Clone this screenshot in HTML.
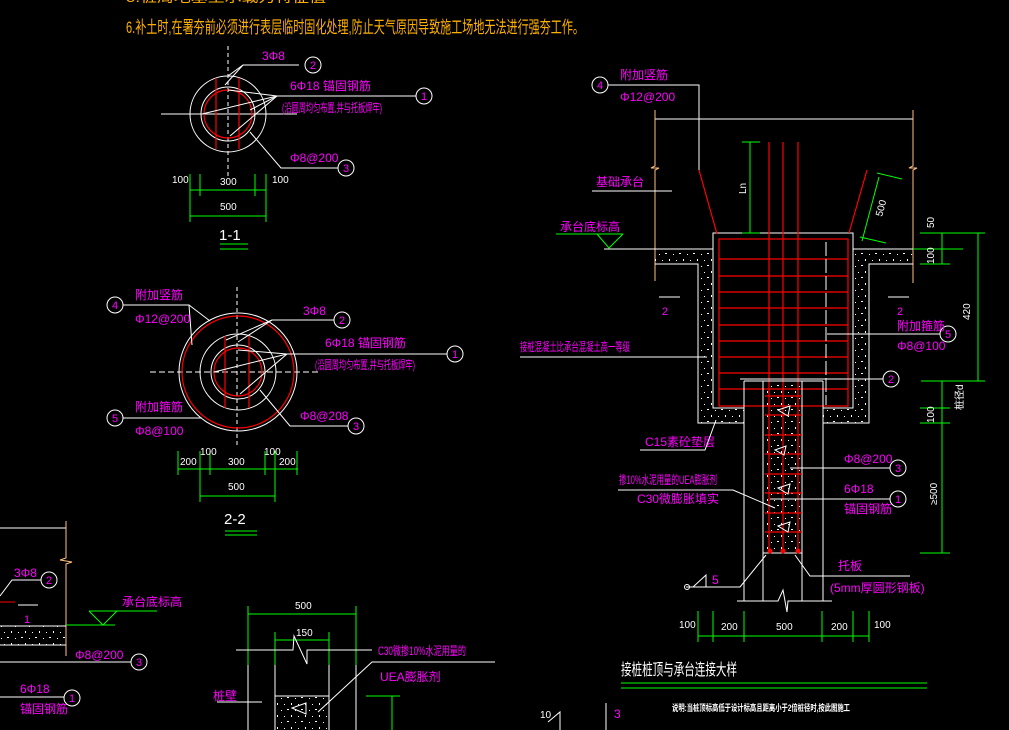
<!DOCTYPE html>
<html><head><meta charset="utf-8"><style>
html,body{margin:0;padding:0;background:#000;}
svg{display:block;}
text{font-family:"Liberation Sans","Noto Sans CJK SC",sans-serif;}
.m{fill:#ff00ff;font-size:12px;}
.w{fill:#fff;font-size:10px;}
.ln{stroke:#fff;stroke-width:1;fill:none;}
.g{stroke:#00ff00;stroke-width:1;fill:none;}
.r{stroke:#ff0000;stroke-width:1.2;fill:none;}
.o{stroke:#ffc080;stroke-width:1;fill:none;}
.n{fill:#ff00ff;font-size:11px;text-anchor:middle;}
</style></head><body>
<svg width="1009" height="730" viewBox="0 0 1009 730" xmlns="http://www.w3.org/2000/svg">
<defs>
<pattern id="h" width="14" height="12" patternUnits="userSpaceOnUse">
<rect x="1" y="2" width="1" height="1" fill="#fff"/><rect x="7" y="1" width="2" height="1" fill="#fff"/><rect x="11" y="7" width="1" height="2" fill="#fff"/><rect x="4" y="8" width="1" height="1" fill="#fff"/>
</pattern>
</defs>
<rect width="1009" height="730" fill="#000"/>
<text x="126" y="2" fill="#ffb000" font-size="14" textLength="200" lengthAdjust="spacingAndGlyphs">5.桩周地基土承载力特征值</text>
<text x="126" y="33" fill="#ffb000" font-size="17" textLength="458" lengthAdjust="spacingAndGlyphs">6.补土时,在署夯前必须进行表层临时固化处理,防止天气原因导致施工场地无法进行强夯工作。</text>

<!-- Section 1-1 -->
<line x1="228" y1="46" x2="228" y2="176" stroke="#fff" stroke-dasharray="4,3"/>
<line class="ln" x1="161" y1="114" x2="297" y2="114"/>
<circle class="ln" cx="228" cy="114" r="38"/>
<circle class="ln" cx="228" cy="114" r="27"/>
<circle class="r" cx="228" cy="114" r="24"/>
<line class="r" x1="216" y1="78" x2="216" y2="149"/>
<line class="r" x1="239" y1="78" x2="239" y2="149"/>
<polyline class="ln" points="228,76 243,65 299,65"/><line class="ln" x1="243" y1="65" x2="225" y2="85"/>
<circle class="ln" cx="313" cy="65" r="8"/><text class="n" x="313" y="69">2</text>
<text class="m" x="262" y="60">3Φ8</text>
<polyline class="ln" points="228,90 277,96 416,96"/><polyline class="ln" points="202,114 277,96 230,136"/><line class="ln" x1="277" y1="96" x2="250" y2="110"/>
<circle class="ln" cx="424" cy="96" r="8"/><text class="n" x="424" y="100">1</text>
<text class="m" x="290" y="90">6Φ18  锚固钢筋</text>
<text class="m" x="282" y="112" textLength="100" lengthAdjust="spacingAndGlyphs">(沿圆周均匀布置,并与托板焊牢)</text>
<polyline class="ln" points="250,132 281,168 338,168"/>
<circle class="ln" cx="346" cy="168" r="8"/><text class="n" x="346" y="172">3</text>
<text class="m" x="290" y="162">Φ8@200</text>
<line class="g" x1="190" y1="190" x2="266" y2="190"/><line class="g" x1="190" y1="216" x2="266" y2="216"/>
<line class="g" x1="190" y1="174" x2="190" y2="222"/><line class="g" x1="266" y1="174" x2="266" y2="222"/>
<line class="g" x1="200" y1="174" x2="200" y2="196"/><line class="g" x1="255" y1="174" x2="255" y2="196"/>
<text class="w" x="172" y="183">100</text><text class="w" x="220" y="185">300</text><text class="w" x="272" y="183">100</text><text class="w" x="220" y="210">500</text>
<text x="219" y="240" fill="#fff" font-size="15">1-1</text>
<line class="g" x1="220" y1="244" x2="248" y2="244"/><line class="g" x1="220" y1="249" x2="248" y2="249"/>

<!-- Section 2-2 -->
<line x1="237" y1="287" x2="237" y2="448" stroke="#fff" stroke-dasharray="4,3"/>
<line x1="150" y1="372" x2="320" y2="372" stroke="#fff" stroke-dasharray="6,3"/>
<circle class="ln" cx="238" cy="372" r="59"/>
<circle class="r" cx="238" cy="372" r="56"/>
<circle class="ln" cx="238" cy="372" r="38"/>
<circle class="ln" cx="238" cy="372" r="27"/>
<circle class="r" cx="238" cy="372" r="24"/>
<line class="r" x1="225" y1="336" x2="225" y2="408"/><line class="r" x1="249" y1="336" x2="249" y2="408"/>
<polyline class="ln" points="123,305 189,305 192,345"/><line class="ln" x1="189" y1="305" x2="210" y2="321"/>
<circle class="ln" cx="115" cy="305" r="8"/><text class="n" x="115" y="309">4</text>
<text class="m" x="135" y="299">附加竖筋</text><text class="m" x="135" y="323">Φ12@200</text>
<line class="ln" x1="123" y1="418" x2="202" y2="418"/>
<circle class="ln" cx="115" cy="418" r="8"/><text class="n" x="115" y="422">5</text>
<text class="m" x="135" y="411">附加箍筋</text><text class="m" x="135" y="435">Φ8@100</text>
<polyline class="ln" points="238,342 272,320 334,320"/><line class="ln" x1="272" y1="320" x2="226" y2="340"/>
<circle class="ln" cx="342" cy="320" r="8"/><text class="n" x="342" y="324">2</text>
<text class="m" x="303" y="315">3Φ8</text>
<polyline class="ln" points="238,350 287,354 447,354"/><polyline class="ln" points="214,372 287,354 240,394"/>
<circle class="ln" cx="455" cy="354" r="8"/><text class="n" x="455" y="358">1</text>
<text class="m" x="325" y="347">6Φ18  锚固钢筋</text>
<text class="m" x="315" y="369" textLength="100" lengthAdjust="spacingAndGlyphs">(沿圆周均匀布置,并与托板焊牢)</text>
<polyline class="ln" points="260,390 290,426 348,426"/>
<circle class="ln" cx="356" cy="426" r="8"/><text class="n" x="356" y="430">3</text>
<text class="m" x="300" y="420">Φ8@208</text>
<line class="g" x1="178" y1="469" x2="298" y2="469"/><line class="g" x1="200" y1="496" x2="275" y2="496"/>
<line class="g" x1="178" y1="451" x2="178" y2="475"/><line class="g" x1="200" y1="451" x2="200" y2="502"/><line class="g" x1="210" y1="451" x2="210" y2="475"/>
<line class="g" x1="265" y1="451" x2="265" y2="475"/><line class="g" x1="275" y1="451" x2="275" y2="502"/><line class="g" x1="297" y1="451" x2="297" y2="475"/>
<text class="w" x="180" y="465">200</text><text class="w" x="200" y="455">100</text><text class="w" x="228" y="465">300</text><text class="w" x="264" y="455">100</text><text class="w" x="279" y="465">200</text><text class="w" x="228" y="490">500</text>
<text x="224" y="524" fill="#fff" font-size="15">2-2</text>
<line class="g" x1="225" y1="531" x2="257" y2="531"/><line class="g" x1="225" y1="535" x2="257" y2="535"/>

<!-- Right detail -->
<polyline class="ln" points="608,85 699,85 699,170"/>
<circle class="ln" cx="600" cy="85" r="8"/><text class="n" x="600" y="89">4</text>
<text class="m" x="620" y="79">附加竖筋</text><text class="m" x="620" y="101">Φ12@200</text>
<line class="ln" x1="655" y1="119" x2="913" y2="119"/>
<polyline class="o" points="655,110 655,166 651,168 659,168 655,170 655,281"/>
<polyline class="o" points="913,110 913,166 909,168 917,168 913,170 913,283"/>
<text class="m" x="596" y="186">基础承台</text><line class="ln" x1="592" y1="191" x2="672" y2="191"/>
<text class="m" x="560" y="231">承台底标高</text>
<line class="g" x1="556" y1="234" x2="623" y2="234"/><polyline class="g" points="597,234 609,248 623,234"/>
<line class="ln" x1="604" y1="249" x2="713" y2="249"/>
<path d="M655,249 H713 V408 H744 V423 H698 V264 H655 Z" fill="url(#h)"/>
<path d="M913,249 H853 V408 H823 V423 H869 V264 H913 Z" fill="url(#h)"/>
<polyline class="ln" points="655,264 698,264 698,423 744,423"/>
<polyline class="ln" points="913,264 869,264 869,423 823,423"/>
<polyline class="ln" points="744,408 713,408 713,233 853,233 853,408 823,408"/>
<line class="ln" x1="853" y1="249" x2="913" y2="249"/>
<rect x="719" y="239" width="129" height="167" class="r"/>
<g class="r">
<line x1="719" y1="259" x2="848" y2="259"/><line x1="719" y1="276" x2="848" y2="276"/><line x1="719" y1="292" x2="848" y2="292"/><line x1="719" y1="308" x2="848" y2="308"/><line x1="719" y1="325" x2="848" y2="325"/><line x1="719" y1="341" x2="848" y2="341"/><line x1="719" y1="357" x2="848" y2="357"/><line x1="719" y1="373" x2="848" y2="373"/><line x1="719" y1="389" x2="848" y2="389"/>
<line x1="769" y1="142" x2="769" y2="552"/><line x1="783" y1="142" x2="783" y2="552"/><line x1="798" y1="142" x2="798" y2="552"/>
<line x1="699" y1="170" x2="717" y2="234"/><line x1="867" y1="170" x2="849" y2="233"/>
</g>
<line x1="826" y1="242" x2="826" y2="405" stroke="#fff" stroke-dasharray="14,3"/>
<line class="g" x1="750" y1="142" x2="750" y2="233"/><line class="g" x1="742" y1="142" x2="760" y2="142"/><line class="g" x1="742" y1="233" x2="760" y2="233"/>
<text class="w" transform="translate(746,194) rotate(-90)">Ln</text>
<line class="g" x1="879" y1="177" x2="862" y2="241"/><line class="g" x1="877" y1="173" x2="902" y2="179"/><line class="g" x1="860" y1="237" x2="886" y2="243"/>
<text class="w" transform="translate(882,217) rotate(-75)">500</text>
<line class="g" x1="978" y1="233" x2="978" y2="381"/><line class="g" x1="942" y1="233" x2="942" y2="264"/><line class="g" x1="942" y1="381" x2="942" y2="553"/>
<line class="g" x1="920" y1="233" x2="985" y2="233"/><line class="g" x1="913" y1="249" x2="963" y2="249"/><line class="g" x1="920" y1="264" x2="950" y2="264"/>
<line class="g" x1="921" y1="381" x2="985" y2="381"/><line class="g" x1="920" y1="408" x2="950" y2="408"/><line class="g" x1="920" y1="423" x2="950" y2="423"/><line class="g" x1="920" y1="553" x2="950" y2="553"/>
<text class="w" transform="translate(934,228) rotate(-90)">50</text><text class="w" transform="translate(934,264) rotate(-90)">100</text>
<text class="w" transform="translate(970,320) rotate(-90)">420</text><text class="w" transform="translate(963,410) rotate(-90)">桩径d</text>
<text class="w" transform="translate(934,423) rotate(-90)">100</text><text class="w" transform="translate(937,505) rotate(-90)">≥500</text>
<line class="ln" x1="659" y1="297" x2="680" y2="297"/><text class="n" x="665" y="315">2</text>
<line class="ln" x1="888" y1="297" x2="909" y2="297"/><text class="n" x="900" y="315">2</text>
<line class="ln" x1="827" y1="334" x2="940" y2="334"/>
<circle class="ln" cx="948" cy="334" r="8"/><text class="n" x="948" y="338">5</text>
<text class="m" x="897" y="330">附加箍筋</text><text class="m" x="897" y="350">Φ8@100</text>
<line class="ln" x1="740" y1="379" x2="883" y2="379"/>
<circle class="ln" cx="891" cy="379" r="8"/><text class="n" x="891" y="383">2</text>
<text class="m" x="520" y="351" textLength="110" lengthAdjust="spacingAndGlyphs">接桩混凝土比承台混凝土高一等级</text>
<line class="ln" x1="520" y1="357" x2="707" y2="357"/>
<rect x="765" y="384" width="37" height="168" fill="url(#h)"/>
<g class="ln"><line x1="744" y1="381" x2="744" y2="601"/><line x1="763" y1="381" x2="763" y2="601"/><line x1="802" y1="381" x2="802" y2="601"/><line x1="823" y1="381" x2="823" y2="601"/><line x1="744" y1="381" x2="823" y2="381"/><line x1="763" y1="553" x2="802" y2="553"/></g>
<g class="r"><line x1="765" y1="396" x2="802" y2="396"/><line x1="765" y1="415" x2="802" y2="415"/><line x1="765" y1="435" x2="802" y2="435"/><line x1="765" y1="454" x2="802" y2="454"/><line x1="765" y1="474" x2="802" y2="474"/><line x1="765" y1="493" x2="802" y2="493"/><line x1="765" y1="513" x2="802" y2="513"/><line x1="765" y1="532" x2="802" y2="532"/></g>
<g class="ln"><polygon points="778,410 790,406 788,416"/><polygon points="775,450 786,446 784,455"/><polygon points="778,488 790,484 788,494"/><polygon points="778,526 790,522 788,532"/></g>
<circle cx="770" cy="551" r="2.5" fill="#f00"/><circle cx="783" cy="551" r="2.5" fill="#f00"/><circle cx="798" cy="551" r="2.5" fill="#f00"/>
<text class="m" x="645" y="446">C15素砼垫层</text><polyline class="ln" points="640,450 705,450 716,420"/>
<line class="ln" x1="790" y1="468" x2="890" y2="468"/>
<circle class="ln" cx="898" cy="468" r="8"/><text class="n" x="898" y="472">3</text>
<text class="m" x="844" y="463">Φ8@200</text>
<line class="ln" x1="770" y1="499" x2="890" y2="499"/>
<circle class="ln" cx="898" cy="499" r="8"/><text class="n" x="898" y="503">1</text>
<text class="m" x="844" y="493">6Φ18</text><text class="m" x="844" y="513">锚固钢筋</text>
<text class="m" x="619" y="484" textLength="98" lengthAdjust="spacingAndGlyphs">掺10%水泥用量的UEA膨胀剂</text>
<text class="m" x="637" y="503">C30微膨胀填实</text>
<polyline class="ln" points="618,490 733,490 775,508"/>
<polyline class="ln" points="795,555 810,576 910,576"/>
<text class="m" x="838" y="570">托板</text><text class="m" x="830" y="592">(5mm厚圆形钢板)</text>
<polyline class="ln" points="686,587 740,587 766,555"/><polyline class="ln" points="693,587 706,575 706,587"/><circle class="ln" cx="687" cy="587" r="2.5"/>
<text class="m" x="712" y="584">5</text>
<polyline class="ln" points="737,601 778,601 783,590 787,612 788,601 832,601"/>
<line class="g" x1="698" y1="636" x2="869" y2="636"/>
<g class="g"><line x1="698" y1="611" x2="698" y2="642"/><line x1="713" y1="611" x2="713" y2="642"/><line x1="744" y1="611" x2="744" y2="642"/><line x1="822" y1="611" x2="822" y2="642"/><line x1="853" y1="611" x2="853" y2="642"/><line x1="869" y1="611" x2="869" y2="642"/></g>
<text class="w" x="679" y="628">100</text><text class="w" x="721" y="630">200</text><text class="w" x="776" y="630">500</text><text class="w" x="831" y="630">200</text><text class="w" x="874" y="628">100</text>
<text x="621" y="675" fill="#fff" font-size="16" textLength="116" lengthAdjust="spacingAndGlyphs">接桩桩顶与承台连接大样</text>
<line class="g" x1="621" y1="683" x2="927" y2="683"/><line class="g" x1="621" y1="688" x2="927" y2="688"/>
<text x="672" y="711" fill="#fff" font-size="9" font-weight="bold" textLength="178" lengthAdjust="spacingAndGlyphs">说明:当桩顶标高低于设计标高且距离小于2倍桩径时,按此图施工</text>
<text class="w" x="540" y="718">10</text><polyline class="ln" points="548,722 560,712 560,730"/>
<line class="ln" x1="606" y1="703" x2="606" y2="730"/><text class="m" x="614" y="718">3</text>

<!-- lower-left -->
<line class="ln" x1="0" y1="528" x2="66" y2="528"/>
<polyline class="o" points="66,521 66,558 60,560 72,562 66,564 66,656"/>
<text class="m" x="14" y="577">3Φ8</text>
<polyline class="ln" points="0,596 12,580 41,580"/>
<circle class="ln" cx="49" cy="580" r="8"/><text class="n" x="49" y="584">2</text>
<line x1="0" y1="602" x2="15" y2="602" stroke="#f00"/><line class="ln" x1="18" y1="605" x2="38" y2="605"/>
<text class="n" x="27" y="623">1</text>
<rect x="0" y="626" width="66" height="19" fill="url(#h)"/>
<line class="ln" x1="0" y1="626" x2="66" y2="626"/><line class="ln" x1="0" y1="645" x2="66" y2="645"/>
<text class="m" x="122" y="606">承台底标高</text>
<line class="g" x1="89" y1="611" x2="157" y2="611"/><polyline class="g" points="89,611 103,625 117,611"/><line class="g" x1="66" y1="625" x2="115" y2="625"/>
<text class="m" x="75" y="659">Φ8@200</text>
<line class="ln" x1="0" y1="662" x2="131" y2="662"/>
<circle class="ln" cx="139" cy="662" r="8"/><text class="n" x="139" y="666">3</text>
<text class="m" x="20" y="693">6Φ18</text><text class="m" x="20" y="713">锚固钢筋</text>
<line class="ln" x1="0" y1="697" x2="64" y2="697"/>
<circle class="ln" cx="72" cy="698" r="8"/><text class="n" x="72" y="702">1</text>

<!-- bottom middle -->
<line class="g" x1="248" y1="614" x2="356" y2="614"/>
<line class="g" x1="248" y1="606" x2="248" y2="665"/><line class="g" x1="356" y1="606" x2="356" y2="665"/>
<line class="ln" x1="248" y1="665" x2="248" y2="730"/><line class="ln" x1="356" y1="665" x2="356" y2="730"/>
<text class="w" x="295" y="609">500</text>
<line class="g" x1="275" y1="640" x2="329" y2="640"/>
<line class="g" x1="275" y1="632" x2="275" y2="665"/><line class="g" x1="329" y1="632" x2="329" y2="665"/>
<line class="ln" x1="275" y1="665" x2="275" y2="730"/><line class="ln" x1="329" y1="665" x2="329" y2="730"/>
<text class="w" x="296" y="636">150</text>
<polyline class="ln" points="236,650 293,650 294,636 307,664 307,650 372,650"/>
<rect x="276" y="697" width="53" height="33" fill="url(#h)"/>
<line class="ln" x1="275" y1="696" x2="329" y2="696"/>
<polygon class="ln" points="292,708 306,703 306,714"/>
<text class="m" x="378" y="655" textLength="88" lengthAdjust="spacingAndGlyphs">C30微掺10%水泥用量的</text>
<text class="m" x="380" y="681">UEA膨胀剂</text>
<polyline class="ln" points="495,662 372,662 318,712"/>
<text class="m" x="213" y="700">桩壁</text><line class="ln" x1="217" y1="702" x2="262" y2="702"/>
<line class="g" x1="366" y1="696" x2="400" y2="696"/><line class="g" x1="392" y1="696" x2="392" y2="730"/>
</svg>
</body></html>
